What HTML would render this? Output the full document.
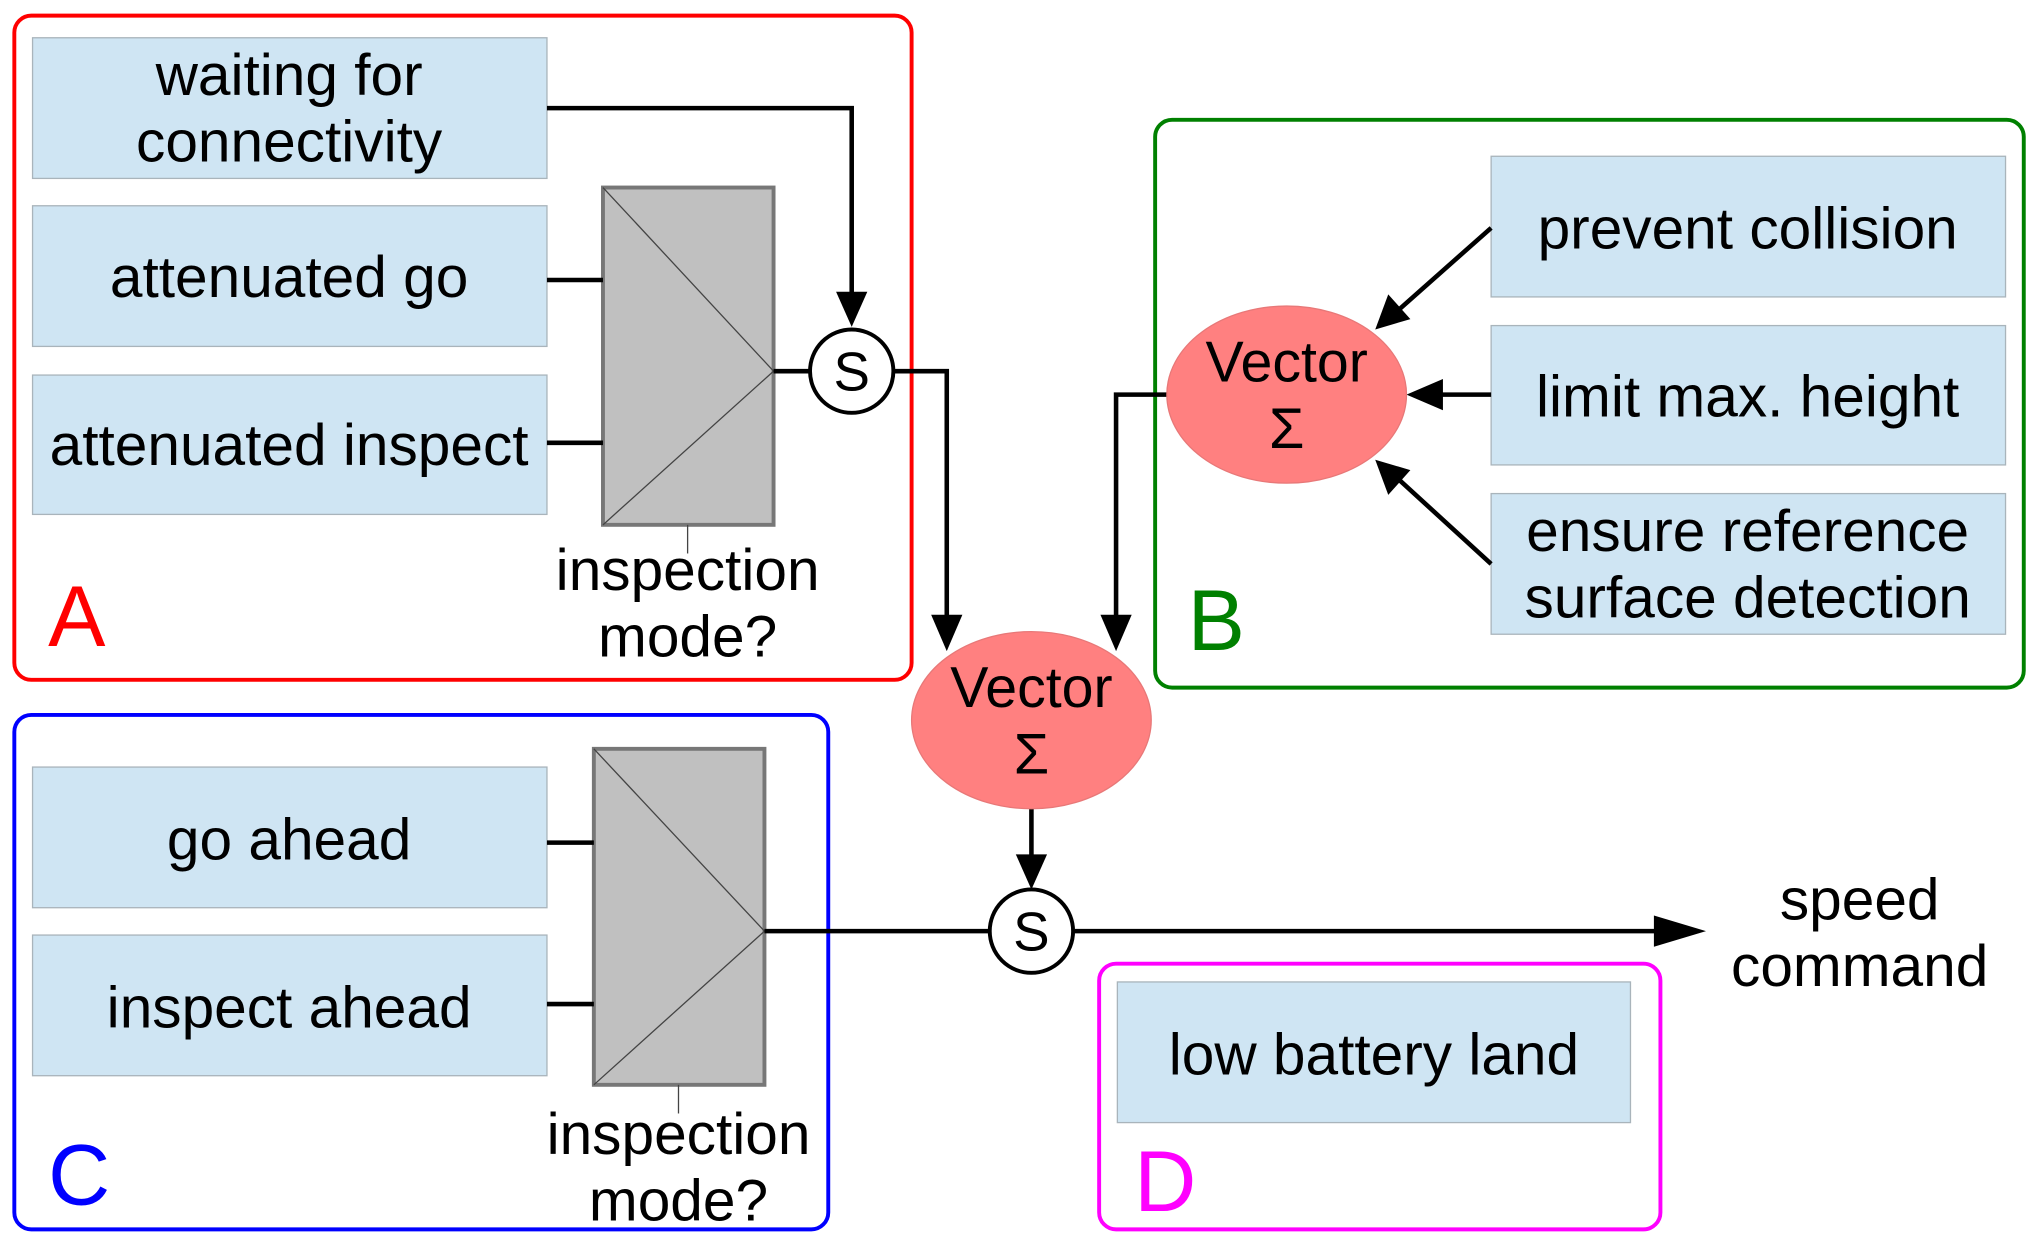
<!DOCTYPE html>
<html><head><meta charset="utf-8"><style>
html,body{margin:0;padding:0;background:#fff;}
svg{display:block;}
text{font-family:"Liberation Sans",sans-serif;fill:#000;}
</style></head><body>
<svg width="2042" height="1251" viewBox="0 0 1568 960.6" preserveAspectRatio="none" xmlns="http://www.w3.org/2000/svg">
<!-- group boxes -->
<rect x="11" y="12" width="689" height="510" rx="13" fill="none" stroke="#ff0000" stroke-width="3"/>
<rect x="887" y="92" width="667" height="436" rx="13" fill="none" stroke="#008000" stroke-width="3"/>
<rect x="11" y="549" width="625" height="395" rx="13" fill="none" stroke="#0000ff" stroke-width="3"/>
<rect x="844" y="740" width="431" height="204" rx="13" fill="none" stroke="#ff00ff" stroke-width="3"/>

<g fill="#cfe5f3" stroke="#a9b4bb" stroke-width="1">
<rect x="25" y="29" width="395" height="108"/>
<rect x="25" y="158" width="395" height="108"/>
<rect x="25" y="288" width="395" height="107"/>
<rect x="1145" y="120" width="395" height="108"/>
<rect x="1145" y="250" width="395" height="107"/>
<rect x="1145" y="379" width="395" height="108"/>
<rect x="25" y="589" width="395" height="108"/>
<rect x="25" y="718" width="395" height="108"/>
<rect x="858" y="754" width="394" height="108"/>
</g>
<g font-size="45" text-anchor="middle">
<text x="222" y="73">waiting for</text>
<text x="222" y="124">connectivity</text>
<text x="222" y="228">attenuated go</text>
<text x="222" y="357">attenuated inspect</text>
<text x="1342" y="191">prevent collision</text>
<text x="1342" y="320">limit max. height</text>
<text x="1342" y="423">ensure reference</text>
<text x="1342" y="474">surface detection</text>
<text x="222" y="660">go ahead</text>
<text x="222" y="789">inspect ahead</text>
<text x="1055" y="825">low battery land</text>
<text x="528" y="453">inspection</text>
<text x="528" y="504">mode?</text>
<text x="521" y="886">inspection</text>
<text x="521" y="937">mode?</text>
<text x="1428" y="706">speed</text>
<text x="1428" y="757">command</text>
</g>
<!-- muxes -->
<g stroke="#777" stroke-width="3" fill="#c0c0c0">
<rect x="463" y="144" width="131" height="259"/>
<rect x="456" y="575" width="131" height="258"/>
</g>
<g stroke="#444" stroke-width="1" fill="none">
<polyline points="463,144 594,285 463,403"/>
<polyline points="456,575 587,715 456,833"/>
<line x1="528" y1="403" x2="528" y2="425"/>
<line x1="521" y1="833" x2="521" y2="855"/>
</g>
<!-- lines -->
<g stroke="#000" stroke-width="3.5" fill="none">
<line x1="420" y1="215" x2="463" y2="215"/>
<line x1="420" y1="340" x2="463" y2="340"/>
<line x1="420" y1="647" x2="456" y2="647"/>
<line x1="420" y1="771" x2="456" y2="771"/>
<polyline points="420,83 654,83 654,228"/>
<line x1="594" y1="285" x2="622" y2="285"/>
<polyline points="686,285 727,285 727,476"/>
<polyline points="896,303 857,303 857,476"/>
<line x1="792" y1="621" x2="792" y2="660"/>
<line x1="587" y1="715" x2="760" y2="715"/>
<line x1="824" y1="715" x2="1275" y2="715"/>
<line x1="1145" y1="175" x2="1075" y2="237"/>
<line x1="1145" y1="303" x2="1105" y2="303"/>
<line x1="1145" y1="433" x2="1075" y2="369"/>
</g>
<g fill="#000">
<polygon points="642,224 666,224 654,251"/>
<polygon points="715,472 739,472 727,500"/>
<polygon points="845,472 869,472 857,500"/>
<polygon points="780,656 804,656 792,683"/>
<polygon points="1270,703 1270,727 1310,715"/>
<polygon points="1108,291 1108,315 1080,303"/>
<polygon points="1056,253 1066,226 1083,245"/>
<polygon points="1056,353 1083,361 1066,380"/>
</g>
<!-- S circles -->
<g fill="#fff" stroke="#000" stroke-width="3">
<circle cx="654" cy="285" r="32"/>
<circle cx="792" cy="715" r="32"/>
</g>
<g font-size="42" text-anchor="middle">
<text x="654" y="300">S</text>
<text x="792" y="730">S</text>
</g>
<!-- vector ellipses -->
<g fill="#ff8080" stroke="#e87878" stroke-width="1">
<ellipse cx="792" cy="553" rx="92" ry="68"/>
<ellipse cx="988" cy="303" rx="92" ry="68"/>
</g>
<g font-size="44" text-anchor="middle">
<text x="792" y="543">Vector</text>
<text x="792" y="594">Σ</text>
<text x="988" y="293">Vector</text>
<text x="988" y="344">Σ</text>
</g>
<!-- labels -->
<g font-size="66">
<text x="37" y="496" style="fill:#ff0000">A</text>
<text x="912" y="499" style="fill:#008000">B</text>
<text x="37" y="925" style="fill:#0000ff">C</text>
<text x="871" y="930" style="fill:#ff00ff">D</text>
</g>
</svg>
</body></html>
